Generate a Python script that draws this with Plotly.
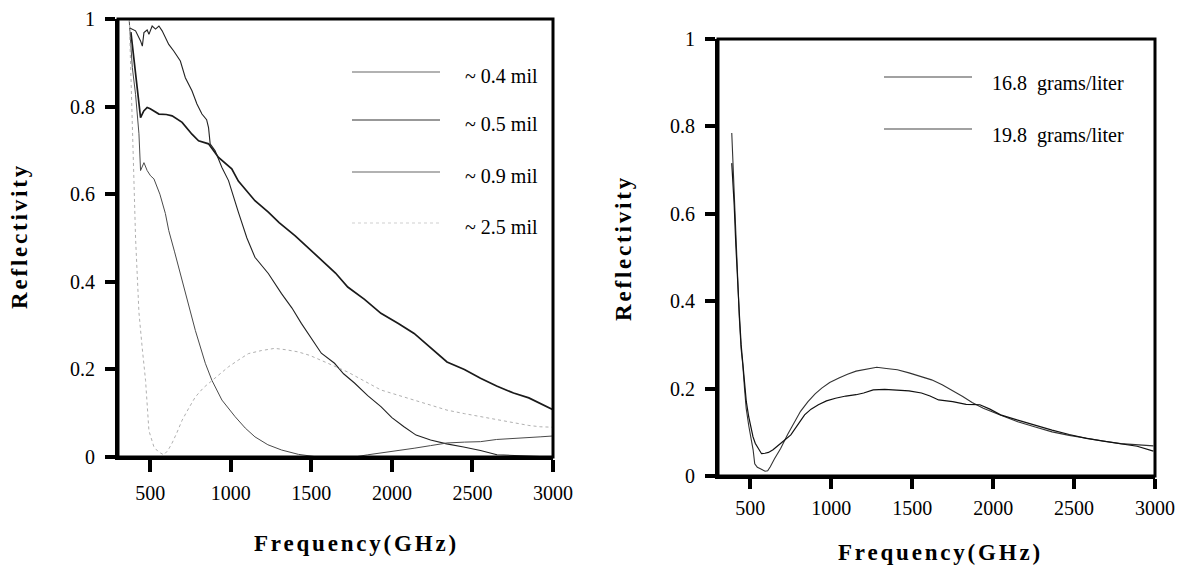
import plotly.graph_objects as go

# ---------------- Left panel data (film thickness) ----------------
f_04 = [380, 400, 420, 440, 460, 481, 500, 523, 554, 600, 636, 698, 759, 800, 862, 924, 1006, 1047, 1150, 1233,
        1300, 1400, 1562, 1650, 1726, 1830, 1932, 2040, 2138, 2240, 2342, 2450, 2550, 2650, 2755, 2850, 2920, 3000]
r_04 = [0.97, 0.9, 0.83, 0.775, 0.79, 0.798, 0.795, 0.79, 0.783, 0.782, 0.779, 0.764, 0.737, 0.722, 0.715, 0.684,
        0.658, 0.63, 0.585, 0.559, 0.535, 0.505, 0.449, 0.42, 0.388, 0.36, 0.328, 0.305, 0.282, 0.25, 0.217, 0.2,
        0.18, 0.162, 0.146, 0.135, 0.123, 0.108]

f_05 = [370, 409, 440, 451, 461, 481, 492, 512, 533, 554, 574, 615, 646, 687, 718, 759, 790, 821, 850, 862, 872,
        903, 945, 986, 1047, 1100, 1150, 1233, 1315, 1380, 1438, 1500, 1562, 1644, 1700, 1768, 1850, 1932, 2000,
        2075, 2150, 2240, 2340, 2445, 2550, 2652, 2750, 2850, 3000]
r_05 = [0.98, 0.973, 0.95, 0.938, 0.969, 0.975, 0.965, 0.984, 0.977, 0.984, 0.973, 0.942, 0.927, 0.904, 0.866,
        0.836, 0.806, 0.783, 0.77, 0.752, 0.715, 0.699, 0.661, 0.631, 0.559, 0.5, 0.456, 0.419, 0.373, 0.34, 0.305,
        0.27, 0.237, 0.214, 0.19, 0.169, 0.14, 0.115, 0.09, 0.069, 0.05, 0.039, 0.03, 0.023, 0.015, 0.005, 0.004,
        0.002, 0.0]

f_09 = [370, 389, 409, 430, 440, 461, 481, 502, 523, 560, 594, 615, 650, 698, 740, 780, 842, 883, 945, 1027, 1090,
        1150, 1230, 1315, 1420, 1520, 1650, 1768, 1850, 1932, 2040, 2138, 2240, 2342, 2450, 2550, 2650, 2755, 2850,
        2920, 3000]
r_09 = [0.995, 0.889, 0.828, 0.738, 0.654, 0.672, 0.654, 0.642, 0.635, 0.6, 0.556, 0.517, 0.47, 0.403, 0.345,
        0.289, 0.214, 0.175, 0.13, 0.092, 0.066, 0.046, 0.028, 0.016, 0.006, 0.001, 0.0, 0.0, 0.005, 0.009, 0.014,
        0.02, 0.026, 0.032, 0.034, 0.035, 0.04, 0.043, 0.045, 0.046, 0.048]

f_25 = [370, 380, 389, 399, 409, 420, 430, 450, 471, 492, 510, 523, 550, 584, 610, 636, 665, 698, 740, 780, 830,
        883, 930, 986, 1050, 1109, 1190, 1272, 1340, 1418, 1490, 1562, 1640, 1726, 1830, 1932, 2030, 2138, 2240,
        2342, 2450, 2550, 2650, 2755, 2850, 2920, 3000]
r_25 = [1.0, 0.85, 0.72, 0.63, 0.5, 0.41, 0.33, 0.25, 0.175, 0.06, 0.035, 0.023, 0.012, 0.005, 0.015, 0.032, 0.055,
        0.084, 0.112, 0.137, 0.158, 0.175, 0.19, 0.206, 0.222, 0.236, 0.243, 0.248, 0.245, 0.24, 0.232, 0.221, 0.208,
        0.194, 0.173, 0.153, 0.142, 0.13, 0.118, 0.107, 0.099, 0.092, 0.085, 0.077, 0.072, 0.069, 0.068]

# ---------------- Right panel data (concentration) ----------------
f_168 = [385, 392, 400, 410, 421, 432, 443, 453, 464, 474, 490, 506, 517, 527, 543, 559, 575, 591, 607, 623, 650,
         687, 730, 771, 810, 856, 900, 941, 990, 1047, 1100, 1153, 1215, 1281, 1340, 1408, 1480, 1557, 1620, 1685,
         1750, 1812, 1870, 1939, 2040, 2152, 2260, 2364, 2470, 2576, 2680, 2788, 2890, 2990]
r_168 = [0.785, 0.72, 0.64, 0.54, 0.447, 0.36, 0.29, 0.255, 0.2, 0.155, 0.115, 0.086, 0.06, 0.028, 0.02, 0.017,
         0.013, 0.011, 0.012, 0.021, 0.04, 0.063, 0.095, 0.124, 0.148, 0.17, 0.188, 0.201, 0.214, 0.224, 0.233, 0.24,
         0.245, 0.249, 0.246, 0.243, 0.236, 0.228, 0.22, 0.209, 0.196, 0.182, 0.168, 0.155, 0.14, 0.124, 0.112,
         0.101, 0.093, 0.086, 0.08, 0.074, 0.071, 0.069]

f_198 = [385, 392, 400, 410, 421, 432, 443, 455, 465, 475, 490, 503, 516, 530, 545, 569, 590, 612, 640, 665, 705,
         750, 790, 835, 875, 920, 970, 1026, 1090, 1153, 1200, 1259, 1330, 1408, 1480, 1557, 1610, 1663, 1750, 1833,
         1918, 1980, 2046, 2152, 2260, 2364, 2470, 2576, 2680, 2788, 2890, 2990]
r_198 = [0.716, 0.68, 0.62, 0.53, 0.44, 0.37, 0.3, 0.25, 0.21, 0.17, 0.135, 0.11, 0.09, 0.075, 0.065, 0.051, 0.052,
         0.054, 0.06, 0.067, 0.08, 0.094, 0.115, 0.14, 0.153, 0.163, 0.172, 0.178, 0.183, 0.186, 0.19, 0.197, 0.198,
         0.197, 0.195, 0.19, 0.183, 0.174, 0.17, 0.164, 0.163, 0.153, 0.14, 0.128, 0.116, 0.105, 0.095, 0.086, 0.08,
         0.074, 0.068, 0.057]

left_labels = ["~ 0.4 mil", "~ 0.5 mil", "~ 0.9 mil", "~ 2.5 mil"]
right_labels = ["16.8  grams/liter", "19.8  grams/liter"]
x_ticks = [500, 1000, 1500, 2000, 2500, 3000]
y_ticks = [0, 0.2, 0.4, 0.6, 0.8, 1]
x_title = "Frequency(GHz)"
y_title = "Reflectivity"

SERIF = "Liberation Serif, Times New Roman, serif"

left_styles = [dict(color="#1a1a1a", width=1.7), dict(color="#222222", width=1.1),
               dict(color="#4a4a4a", width=1.0), dict(color="#b0b0b0", width=1.0, dash="dot")]
left_leg_colors = ["#666666", "#333333", "#666666", "#d0d0d0"]
right_styles = [dict(color="#333333", width=1.1), dict(color="#111111", width=1.2)]

fig = go.Figure()
for (fx, ry), st, nm in zip([(f_04, r_04), (f_05, r_05), (f_09, r_09), (f_25, r_25)], left_styles, left_labels):
    fig.add_trace(go.Scatter(x=fx, y=ry, mode="lines", line=st, name=nm, xaxis="x", yaxis="y", showlegend=False))
for (fx, ry), st, nm in zip([(f_168, r_168), (f_198, r_198)], right_styles, right_labels):
    fig.add_trace(go.Scatter(x=fx, y=ry, mode="lines", line=st, name=nm, xaxis="x2", yaxis="y2", showlegend=False))

W, H = 1182, 567
P1 = dict(l=118, r=553, t=19, b=457)
P2 = dict(l=718, r=1155, t=39, b=476)

axis_common = dict(showline=True, linecolor="black", linewidth=3, showgrid=False, zeroline=False,
                   ticks="outside", tickcolor="black", tickwidth=3.5,
                   tickfont=dict(family=SERIF, size=20, color="black"))

fig.update_layout(
    template="none",
    width=W, height=H, paper_bgcolor="white", plot_bgcolor="white",
    margin=dict(l=0, r=0, t=0, b=0), showlegend=False,
    xaxis=dict(domain=[P1["l"] / W, P1["r"] / W], range=[300, 3000], tickvals=x_ticks, ticklen=12,
               ticklabelstandoff=4, anchor="y", **axis_common),
    yaxis=dict(domain=[1 - P1["b"] / H, 1 - P1["t"] / H], range=[0, 1], tickvals=y_ticks, ticklen=10,
               ticklabelstandoff=6, anchor="x", **axis_common),
    xaxis2=dict(domain=[P2["l"] / W, P2["r"] / W], range=[300, 3000], tickvals=x_ticks, ticklen=10,
                ticklabelstandoff=2, anchor="y2", **axis_common),
    yaxis2=dict(domain=[1 - P2["b"] / H, 1 - P2["t"] / H], range=[0, 1], tickvals=y_ticks, ticklen=10,
                ticklabelstandoff=6, anchor="x2", **axis_common),
)

annotations = []
shapes = []

# closing box (top and right frame lines) of each panel
for xr, yr in (("x domain", "y domain"), ("x2 domain", "y2 domain")):
    shapes.append(dict(type="rect", xref=xr, yref=yr, x0=0, x1=1, y0=0, y1=1,
                       line=dict(color="black", width=3), fillcolor="rgba(0,0,0,0)"))

title_font = dict(family=SERIF, size=23, color="black")
def spaced(t):
    return '<span style="letter-spacing:2.8px"><b>' + t + '</b></span>'

annotations.append(dict(text=spaced(x_title), x=356 / W, y=1 - 543 / H, xref="paper", yref="paper",
                        showarrow=False, font=title_font, xanchor="center", yanchor="middle"))
annotations.append(dict(text=spaced(x_title), x=940 / W, y=1 - 552 / H, xref="paper", yref="paper",
                        showarrow=False, font=title_font, xanchor="center", yanchor="middle"))
annotations.append(dict(text=spaced(y_title), x=19 / W, y=1 - 236 / H, xref="paper", yref="paper",
                        showarrow=False, font=title_font, textangle=-90, xanchor="center", yanchor="middle"))
annotations.append(dict(text=spaced(y_title), x=623 / W, y=1 - 248 / H, xref="paper", yref="paper",
                        showarrow=False, font=title_font, textangle=-90, xanchor="center", yanchor="middle"))

# left legend
leg_font = dict(family=SERIF, size=20, color="black")
left_leg_y = [72, 120, 172, 223]
for lab, st, col, yy in zip(left_labels, left_styles, left_leg_colors, left_leg_y):
    shapes.append(dict(type="line", xref="paper", yref="paper", x0=352 / W, x1=440 / W, y0=1 - yy / H,
                       y1=1 - yy / H, line=dict(color=col, width=1.2, dash=st.get("dash", "solid"))))
    annotations.append(dict(text=lab, x=463 / W, y=1 - (yy + 4) / H, xref="paper", yref="paper",
                            showarrow=False, font=leg_font, xanchor="left", yanchor="middle"))
# right legend
right_leg_y = [77, 129]
for lab, st, yy in zip(right_labels, right_styles, right_leg_y):
    shapes.append(dict(type="line", xref="paper", yref="paper", x0=884 / W, x1=972 / W, y0=1 - yy / H,
                       y1=1 - yy / H, line=dict(color="#444444", width=1.1)))
    annotations.append(dict(text=lab, x=990 / W, y=1 - (yy + 6) / H, xref="paper", yref="paper",
                            showarrow=False, font=leg_font, xanchor="left", yanchor="middle"))

fig.update_layout(annotations=annotations, shapes=shapes)
fig.write_html("out.html", config={"displayModeBar": False},
               post_script="document.body.style.margin='0';document.body.style.overflow='hidden';")
